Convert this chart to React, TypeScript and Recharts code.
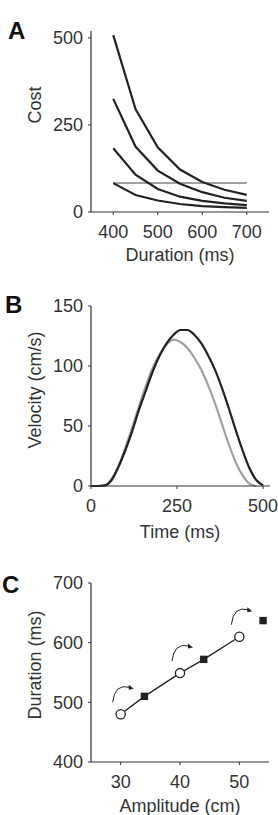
import React from 'react';
import { LineChart, Line, ScatterChart, Scatter, XAxis, YAxis } from 'recharts';

const FONT = '"Liberation Sans", Arial, Helvetica, sans-serif';
const INK = '#222';
const TEXT = '#333';
const GREY = '#a0a0a0';

// A: cost against movement duration
const durations = [400, 450, 500, 550, 600, 650, 700];
const cost1 = [508, 296, 186, 122, 86, 64, 49];
const cost2 = [325, 188, 119, 81, 57, 41, 32];
const cost3 = [183, 107, 66, 44, 32, 25, 20];
const cost4 = [83, 49, 33, 23, 17, 14, 12];
const costLimit = [83, 83, 83, 83, 83, 83, 83];
const costTicks = [0, 250, 500];
const durationTicks = [400, 500, 600, 700];

// B: velocity profiles
const timeMs = [0, 20, 40, 60, 80, 100, 120, 140, 160, 180, 200, 220, 240, 260, 280, 300, 320, 340, 360, 380, 400, 420, 440, 460, 480, 500];
const velBlack = [0, 0, 0.5, 5, 16, 30, 46, 64, 80, 96, 109, 119, 126, 130, 130, 126, 119, 109, 97, 82, 65, 47, 30, 15, 5, 0.5];
const velGrey = [0, 0, 0.5, 6, 17, 32, 49, 67, 84, 99, 110, 118, 122, 120, 115, 107, 97, 84, 69, 52, 35, 20, 9, 2, 0, null];
const velTicks = [0, 50, 100, 150];
const timeTicks = [0, 250, 500];

// C: duration against amplitude
const circleAmp = [30, 40, 50];
const circleDur = [480, 549, 610];
const squareAmp = [34, 44, 54];
const squareDur = [510, 572, 637];
const ampTicks = [30, 40, 50];
const durTicksC = [400, 500, 600, 700];

const costData = durations.map((d, i) => ({
  d, c1: cost1[i], c2: cost2[i], c3: cost3[i], c4: cost4[i], lim: costLimit[i],
}));
const velData = timeMs.map((t, i) => ({ t, black: velBlack[i], grey: velGrey[i] }));
const circles = circleAmp.map((x, i) => ({ x, y: circleDur[i] }));
const squares = squareAmp.map((x, i) => ({ x, y: squareDur[i] }));
const fitLine = [...circles, ...squares.slice(0, 2)].sort((a, b) => a.x - b.x);

const tickStyle = { fill: TEXT, fontSize: 18, fontFamily: FONT };
const axisLine = { stroke: '#333', strokeWidth: 1.2 };
const tickLine = { stroke: '#333', strokeWidth: 1 };

function titles(letter: string, lx: number, ly: number, yTitle: string, yy: number, xTitle: string, xy: number) {
  return () => (
    <g fontFamily={FONT}>
      <text x={lx} y={ly} fontSize={24} fontWeight="bold" fill="#111">{letter}</text>
      <text
        x={35}
        y={yy}
        fontSize={18}
        fill={TEXT}
        textAnchor="middle"
        dominantBaseline="central"
        transform={`rotate(-90 35 ${yy})`}
      >
        {yTitle}
      </text>
      <text x={180} y={xy} fontSize={18} fill={TEXT} textAnchor="middle">{xTitle}</text>
    </g>
  );
}

const OpenCircle = (p: any) => (
  <circle cx={p.cx} cy={p.cy} r={4.6} fill="#fff" stroke={INK} strokeWidth={1.3} />
);
const FilledSquare = (p: any) => (
  <rect x={p.cx - 3.7} y={p.cy - 3.7} width={7.4} height={7.4} fill={INK} />
);
const CurvedArrow = (p: any) => {
  const { cx, cy } = p;
  return (
    <g>
      <path
        d={`M${cx - 8} ${cy - 12} Q${cx - 6} ${cy - 31} ${cx + 9} ${cy - 27}`}
        fill="none"
        stroke={INK}
        strokeWidth={1}
      />
      <path d={`M${cx + 13} ${cy - 25.5} L${cx + 8} ${cy - 29.5} L${cx + 8} ${cy - 24.5} Z`} fill={INK} />
    </g>
  );
};
const NoDot = () => <g />;

const panel = (top: number): React.CSSProperties => ({ position: 'absolute', left: 0, top });

export default function App() {
  return (
    <div style={{ position: 'absolute', left: 0, top: 0, width: 278, height: 815, background: '#fff' }}>
      <div style={panel(0)}>
        <LineChart width={278} height={270} data={costData} margin={{ top: 31, right: 9, bottom: 0, left: 0 }}>
          <XAxis
            dataKey="d"
            type="number"
            domain={[350, 750]}
            ticks={durationTicks}
            height={58}
            tick={tickStyle}
            tickSize={3}
            tickMargin={10}
            axisLine={axisLine}
            tickLine={tickLine}
          />
          <YAxis
            type="number"
            domain={[0, 520]}
            ticks={costTicks}
            width={91}
            tick={tickStyle}
            tickSize={3}
            tickMargin={5}
            axisLine={axisLine}
            tickLine={tickLine}
            label={titles('A', 8, 39, 'Cost', 105, 'Duration (ms)', 261)}
          />
          <Line dataKey="lim" stroke={GREY} strokeWidth={2} dot={false} type="linear" isAnimationActive={false} />
          <Line dataKey="c4" stroke={INK} strokeWidth={2.2} dot={false} type="linear" isAnimationActive={false} />
          <Line dataKey="c3" stroke={INK} strokeWidth={2.2} dot={false} type="linear" isAnimationActive={false} />
          <Line dataKey="c2" stroke={INK} strokeWidth={2.2} dot={false} type="linear" isAnimationActive={false} />
          <Line dataKey="c1" stroke={INK} strokeWidth={2.2} dot={false} type="linear" isAnimationActive={false} />
        </LineChart>
      </div>

      <div style={panel(270)}>
        <LineChart width={278} height={282} data={velData} margin={{ top: 36, right: 8, bottom: 0, left: 0 }}>
          <XAxis
            dataKey="t"
            type="number"
            domain={[0, 520]}
            ticks={timeTicks}
            height={66}
            tick={tickStyle}
            tickSize={3}
            tickMargin={10}
            axisLine={axisLine}
            tickLine={tickLine}
          />
          <YAxis
            type="number"
            domain={[0, 150]}
            ticks={velTicks}
            width={91}
            tick={tickStyle}
            tickSize={3}
            tickMargin={5}
            axisLine={axisLine}
            tickLine={tickLine}
            label={titles('B', 5, 43, 'Velocity (cm/s)', 120, 'Time (ms)', 268)}
          />
          <Line dataKey="grey" stroke={GREY} strokeWidth={2.2} dot={false} type="monotone" isAnimationActive={false} />
          <Line dataKey="black" stroke={INK} strokeWidth={2.2} dot={false} type="monotone" isAnimationActive={false} />
        </LineChart>
      </div>

      <div style={panel(540)}>
        <ScatterChart width={278} height={275} margin={{ top: 43, right: 9, bottom: 0, left: 0 }}>
          <XAxis
            dataKey="x"
            type="number"
            domain={[25, 55]}
            ticks={ampTicks}
            height={53}
            tick={tickStyle}
            tickSize={3}
            tickMargin={10}
            axisLine={axisLine}
            tickLine={tickLine}
          />
          <YAxis
            dataKey="y"
            type="number"
            domain={[400, 700]}
            ticks={durTicksC}
            width={91}
            tick={tickStyle}
            tickSize={3}
            tickMargin={5}
            axisLine={axisLine}
            tickLine={tickLine}
            label={titles('C', 2, 53, 'Duration (ms)', 125, 'Amplitude (cm)', 272)}
          />
          <Scatter data={fitLine} line={{ stroke: INK, strokeWidth: 1.3 }} shape={NoDot} isAnimationActive={false} />
          <Scatter data={circles} shape={CurvedArrow} isAnimationActive={false} />
          <Scatter data={circles} shape={OpenCircle} isAnimationActive={false} />
          <Scatter data={squares} shape={FilledSquare} isAnimationActive={false} />
        </ScatterChart>
      </div>
    </div>
  );
}
